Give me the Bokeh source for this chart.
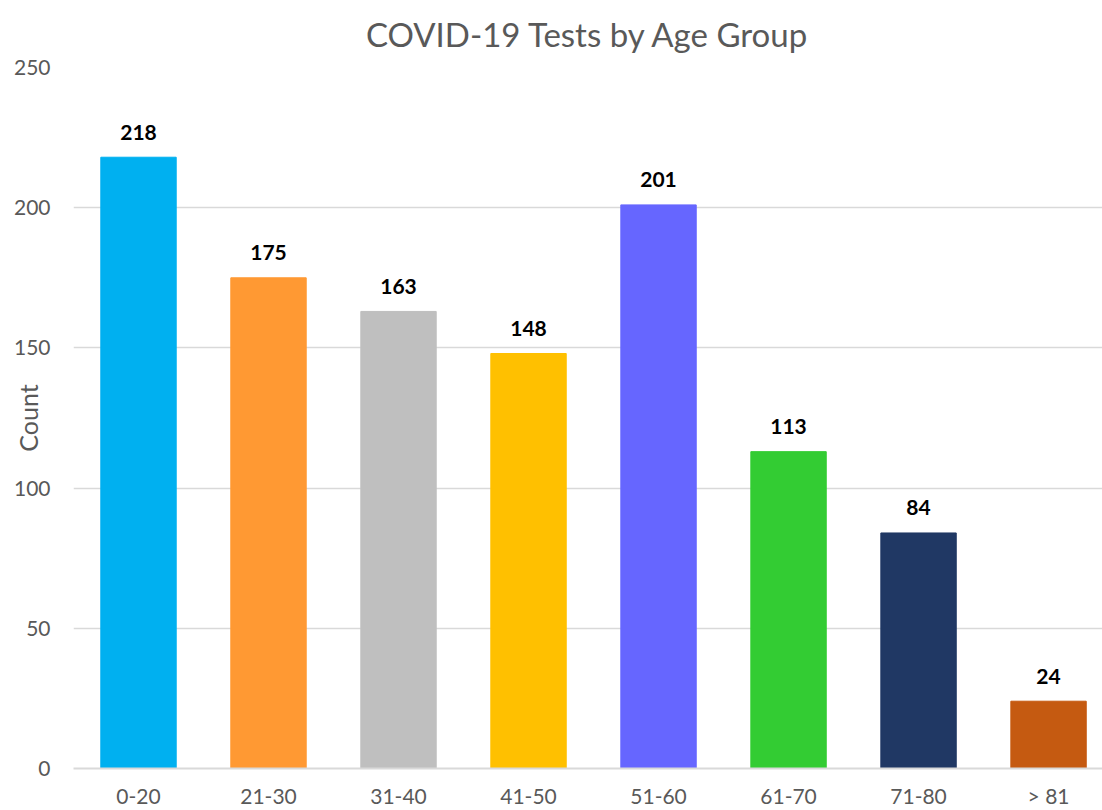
from bokeh.plotting import figure
from bokeh.models import ColumnDataSource, FixedTicker, Range1d
from bokeh.core.properties import value
from bokeh.embed import file_html
from bokeh.resources import INLINE

categories = ["0-20", "21-30", "31-40", "41-50", "51-60", "61-70", "71-80", "> 81"]
counts = [218, 175, 163, 148, 201, 113, 84, 24]
colors = ["#00B0F0", "#FF9933", "#BFBFBF", "#FFC000", "#6666FF", "#33CC33", "#203864", "#C55A11"]
y_ticks = [0, 50, 100, 150, 200, 250]

FONT = "Lato"
GRAY = "#595959"

xs = list(range(len(categories)))
src = ColumnDataSource(dict(x=xs, top=counts, color=colors, label=[str(c) for c in counts]))

p = figure(width=1102, height=810, output_backend="svg", toolbar_location=None,
           x_range=Range1d(-0.5, 7.415), y_range=Range1d(0, 250),
           min_border_left=73, min_border_top=67, min_border_right=0, min_border_bottom=42)
p.outline_line_color = None

p.vbar(x="x", top="top", width=0.58, color="color", source=src)
p.text(x="x", y="top", text="label", source=src, y_offset=-25,
       text_align="center", text_baseline="middle",
       text_font=value(FONT), text_font_style="bold", text_font_size="21px", text_color="black")

p.title.text = "COVID-19 Tests by Age Group"
p.title.align = "center"
p.title.vertical_align = "top"
p.title.text_font = FONT
p.title.text_font_style = "normal"
p.title.text_font_size = "33px"
p.title.text_color = GRAY
p.title.offset = 0
p.title.standoff = 24

p.xaxis.ticker = FixedTicker(ticks=xs)
p.xaxis.major_label_overrides = {i: c for i, c in enumerate(categories)}
p.yaxis.ticker = FixedTicker(ticks=y_ticks)

for ax in (p.xaxis[0], p.yaxis[0]):
    ax.major_label_text_font = FONT
    ax.major_label_text_font_size = "21px"
    ax.major_label_text_color = GRAY
    ax.major_tick_line_color = None
    ax.minor_tick_line_color = None
    ax.major_tick_out = 0
    ax.major_tick_in = 0
    ax.minor_tick_out = 0
    ax.minor_tick_in = 0

p.xaxis.axis_line_color = "#D9D9D9"
p.xaxis.axis_line_width = 2
p.xaxis.major_label_standoff = 14
p.yaxis.axis_line_color = None
p.yaxis.major_label_standoff = 23
p.yaxis.axis_label = "Count"
p.yaxis.axis_label_text_font = FONT
p.yaxis.axis_label_text_font_style = "normal"
p.yaxis.axis_label_text_font_size = "25px"
p.yaxis.axis_label_text_color = GRAY
p.yaxis.axis_label_standoff = -32

p.xgrid.grid_line_color = None
p.ygrid.grid_line_color = "#D9D9D9"
p.ygrid.grid_line_width = 1.5

open("out.html", "w").write(file_html(p, INLINE))
